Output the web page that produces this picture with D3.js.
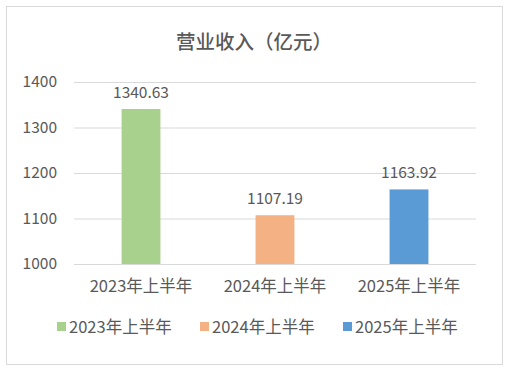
<!DOCTYPE html>
<html>
<head>
<meta charset="utf-8">
<script src="https://cdn.jsdelivr.net/npm/d3@7"></script>
<style>
body { margin: 0; background: #fff; }
text { font-family: "Noto Sans CJK SC", "Noto Sans", sans-serif; fill: #595959; }
</style>
</head>
<body>
<div id="chart"></div>
<script>
var categories = ['2023年上半年', '2024年上半年', '2025年上半年'];
var values = [1340.63, 1107.19, 1163.92];
var colors = ['#A9D18E', '#F4B183', '#5B9BD5'];
var yTicks = [1000, 1100, 1200, 1300, 1400];

var svg = d3.select('#chart')
    .append('svg')
    .attr('width', 509)
    .attr('height', 369);

svg.append('rect')
    .attr('x', 6.5).attr('y', 6.5)
    .attr('width', 496).attr('height', 358)
    .attr('fill', '#fff')
    .attr('stroke', '#d9d9d9');

svg.append('text')
    .text('营业收入（亿元）')
    .attr('x', 254)
    .attr('y', 49)
    .attr('text-anchor', 'middle')
    .style('font-size', '19.5px')
    .style('font-weight', '500');

var x = d3.scaleBand()
    .domain(categories)
    .range([74, 476])
    .paddingInner(0.71)
    .paddingOuter(0.355);

var y = d3.scaleLinear()
    .domain([1000, 1400])
    .range([264, 82]);

// gridlines
svg.append('g').selectAll('line')
    .data(yTicks).enter()
    .append('line')
    .attr('x1', 74).attr('x2', 476)
    .attr('y1', function(d) { return y(d) + 0.5; })
    .attr('y2', function(d) { return y(d) + 0.5; })
    .attr('stroke', '#d9d9d9');

svg.append('g').selectAll('text')
    .data(yTicks).enter()
    .append('text')
    .text(function(d) { return d; })
    .attr('x', 57)
    .attr('y', function(d) { return y(d) + 5; })
    .attr('text-anchor', 'end')
    .style('font-size', '15.5px');

svg.append('g').selectAll('rect')
    .data(values).enter()
    .append('rect')
    .attr('x', function(d, i) { return x(categories[i]); })
    .attr('width', x.bandwidth())
    .attr('y', function(d) { return y(d); })
    .attr('height', function(d) { return y(1000) - y(d); })
    .attr('fill', function(d, i) { return colors[i]; });

svg.append('g').selectAll('text')
    .data(values).enter()
    .append('text')
    .text(function(d) { return d.toFixed(2); })
    .attr('x', function(d, i) { return x(categories[i]) + x.bandwidth() / 2; })
    .attr('y', function(d) { return y(d) - 11; })
    .attr('text-anchor', 'middle')
    .style('font-size', '15.5px');

svg.append('g').selectAll('text')
    .data(categories).enter()
    .append('text')
    .text(function(d) { return d; })
    .attr('x', function(d) { return x(d) + x.bandwidth() / 2; })
    .attr('y', 292)
    .attr('text-anchor', 'middle')
    .style('font-size', '16.5px');

var legendX = [57, 200, 343];
var legend = svg.append('g').selectAll('g')
    .data(categories).enter()
    .append('g')
    .attr('transform', function(d, i) { return 'translate(' + legendX[i] + ',327)'; });
legend.append('rect')
    .attr('x', 0).attr('y', -5)
    .attr('width', 9).attr('height', 9)
    .attr('fill', function(d, i) { return colors[i]; });
legend.append('text')
    .text(function(d) { return d; })
    .attr('x', 12)
    .attr('y', 5.5)
    .style('font-size', '16.5px');
</script>
</body>
</html>
